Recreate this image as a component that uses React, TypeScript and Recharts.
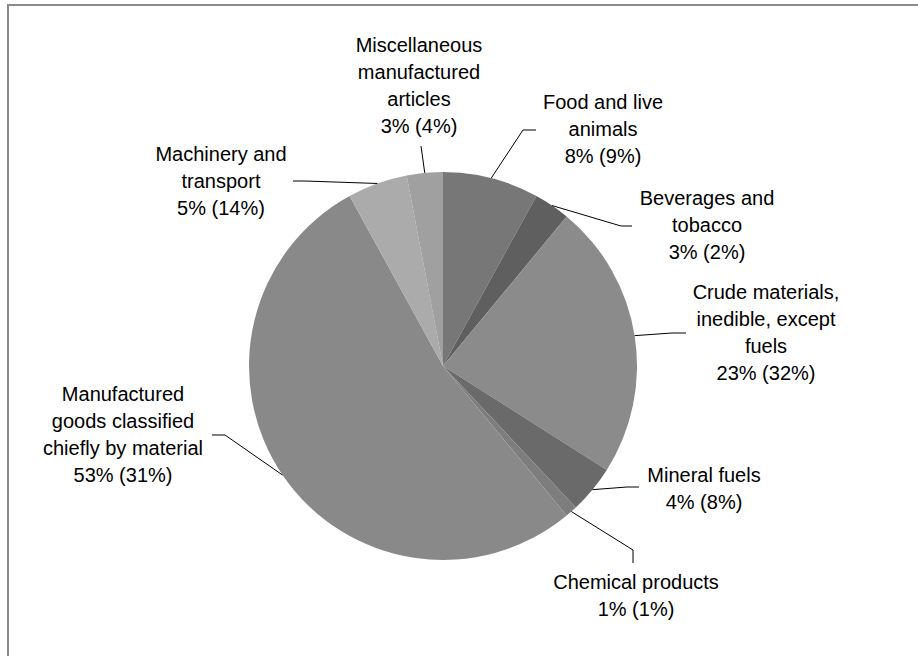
import { PieChart, Pie, Cell } from 'recharts'

// Shares of total, % (value in brackets is the comparison share)
const CATEGORIES = [
  'Food and live animals',
  'Beverages and tobacco',
  'Crude materials, inedible, except fuels',
  'Mineral fuels',
  'Chemical products',
  'Manufactured goods classified chiefly by material',
  'Machinery and transport',
  'Miscellaneous manufactured articles',
]
const SHARES = [8, 3, 23, 4, 1, 53, 5, 3]
const PREV_SHARES = [9, 2, 32, 8, 1, 31, 14, 4]
const LABEL_LINES = [
  ['Food and live', 'animals'],
  ['Beverages and', 'tobacco'],
  ['Crude materials,', 'inedible, except', 'fuels'],
  ['Mineral fuels'],
  ['Chemical products'],
  ['Manufactured', 'goods classified', 'chiefly by material'],
  ['Machinery and', 'transport'],
  ['Miscellaneous', 'manufactured', 'articles'],
]

const COLORS = ['#777777', '#5f5f5f', '#8b8b8b', '#6a6a6a', '#7d7d7d', '#898989', '#ababab', '#a0a0a0']

// label placement relative to the pie centre (text centre + leader elbow/end)
const LABEL_LAYOUT = [
  { dx: 160, dy: -264, elbow: [80, -236], end: [93, -236] },
  { dx: 264, dy: -168, elbow: [178, -140], end: [189, -140] },
  { dx: 323, dy: -74, elbow: [229, -33], end: [243, -33] },
  { dx: 261, dy: 109, elbow: [184, 121], end: [196, 121] },
  { dx: 193, dy: 216, elbow: [190, 184], end: [190, 197] },
  { dx: -320, dy: 28, elbow: [-218, 69], end: [-231, 69] },
  { dx: -222, dy: -212, elbow: [-138, -185], end: [-150, -185] },
  { dx: -24, dy: -321, elbow: [-22, -220], end: [-22, -220] },
]

const LINE_H = 27
const FONT = '"Liberation Sans", Arial, sans-serif'
const RAD = Math.PI / 180

const data = CATEGORIES.map((name, i) => ({
  name,
  value: SHARES[i],
  prev: PREV_SHARES[i],
}))

function renderLabel(props: any) {
  const { cx, cy, midAngle, outerRadius, index } = props
  const lay = LABEL_LAYOUT[index]
  const sx = cx + outerRadius * Math.cos(-midAngle * RAD)
  const sy = cy + outerRadius * Math.sin(-midAngle * RAD)
  const pts = [[sx, sy], [cx + lay.elbow[0], cy + lay.elbow[1]], [cx + lay.end[0], cy + lay.end[1]]]
  const lines = [...LABEL_LINES[index], `${SHARES[index]}% (${PREV_SHARES[index]}%)`]
  return (
    <g key={`lbl-${index}`}>
      <polyline
        points={pts.map(p => p.join(',')).join(' ')}
        fill="none" stroke="#000" strokeWidth={1}
      />
      <text
        x={cx + lay.dx} y={cy + lay.dy}
        textAnchor="middle" fill="#000"
        style={{ fontFamily: FONT, fontSize: 20 }}
      >
        {lines.map((l, k) => (
          <tspan key={k} x={cx + lay.dx} y={cy + lay.dy + k * LINE_H} dominantBaseline="central">{l}</tspan>
        ))}
      </text>
    </g>
  )
}

export default function App() {
  return (
    <div style={{ position: 'fixed', left: 0, top: 0, width: 918, height: 656, overflow: 'hidden', background: '#fff' }}>
      {/* Rahmen */}
      <div style={{
        position: 'absolute', left: 7, top: 4, width: 940, height: 680,
        border: '2px solid #8a8a8a', boxSizing: 'border-box',
      }} />
      <div style={{ position: 'absolute', left: 0, top: 0 }}>
        <PieChart width={918} height={656} margin={{ top: 0, right: 0, bottom: 0, left: 0 }}>
          <Pie
            data={data} dataKey="value" nameKey="name"
            cx={443} cy={366} outerRadius={194}
            startAngle={90} endAngle={-270}
            stroke="none"
            label={renderLabel} labelLine={false}
            isAnimationActive={false}
          >
            {data.map((d, i) => <Cell key={d.name} fill={COLORS[i]} stroke="none" />)}
          </Pie>
        </PieChart>
      </div>
    </div>
  )
}
